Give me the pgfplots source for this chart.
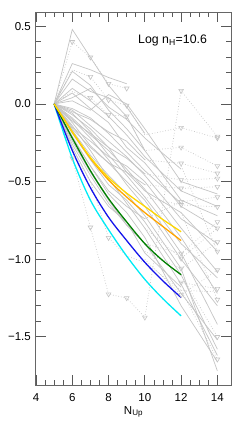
\documentclass[border=0pt]{standalone}
\usepackage{pgfplots}
\pgfplotsset{compat=1.18}
\usepackage{fontspec}
\setmainfont{Liberation Sans}
\definecolor{gl}{RGB}{196,196,196}
\definecolor{myorange}{RGB}{255,165,0}
\definecolor{myyellow}{RGB}{255,215,0}
\definecolor{mygreen}{RGB}{0,128,0}
\definecolor{myblue}{RGB}{20,20,235}
\definecolor{mycyan}{RGB}{0,235,245}
\begin{document}
\begin{tikzpicture}
\begin{axis}[
  scale only axis, width=195pt, height=372.7pt,
  xmin=4, xmax=14.75, ymin=-1.81, ymax=0.59,
  xtick={4,6,8,10,12,14}, xticklabels={4,6,8,10,12,14},
  ytick={-1.5,-1,-0.5,0,0.5}, yticklabels={−1.5,−1.0,−0.5,0.0,0.5},
  minor x tick num=3, minor y tick num=4,
  major tick length=10pt, minor tick length=5pt,
  tick align=inside,
  axis line style={black!60, line width=1pt},
  every tick/.style={black!65, line width=0.8pt},
  tick label style={font=\fontsize{11.5}{13}\selectfont, text=black},
  yticklabel style={inner sep=0pt, xshift=-5pt},
  xticklabel style={inner sep=0pt, yshift=-8pt},
  xlabel={N\textsubscript{Up}},
  xlabel style={font=\fontsize{11.5}{13}\selectfont, at={(axis description cs:0.5,0)}, anchor=north, inner sep=0pt, yshift=-21pt},
  clip=true,
  gs/.style={gl, line width=0.7pt, mark=none},
  gd/.style={gl, line width=0.7pt, dotted, mark=triangle, mark size=2.7pt, mark options={solid, rotate=180, gl, line width=0.6pt, fill=none}},
  cl/.style={line width=1.3pt, mark=none, smooth},
]
% solid gray lines
\addplot[gs] coordinates {(5,0)(6,0.48)(7,0.30)(8,0.12)(9,-0.02)(10,-0.19)};
\addplot[gs] coordinates {(5,0)(6,0.26)(7,0.22)(8,0.17)(9,0.13)};
\addplot[gs] coordinates {(5,0)(6,0.16)(7,0.08)(8,0.04)(9,-0.08)(10,-0.3)(12,-0.62)(14,-0.72)};
\addplot[gs] coordinates {(5,0)(6,0.07)(7,-0.03)(8,-0.12)(9,-0.28)(10,-0.38)(12,-0.66)(14,-0.8)};
\addplot[gs] coordinates {(5,0)(6,-0.04)(7,-0.14)(8,-0.24)(9,-0.34)(10,-0.46)(12,-0.74)(14,-0.9)};
\addplot[gs] coordinates {(5,0)(6,-0.09)(7,-0.2)(8,-0.3)(9,-0.42)(10,-0.55)(12,-0.86)(14,-1.22)};
\addplot[gs] coordinates {(5,0)(6,-0.12)(7,-0.27)(8,-0.38)(9,-0.5)(10,-0.62)(12,-0.96)(14,-1.42)};
\addplot[gs] coordinates {(5,0)(6,-0.17)(7,-0.33)(8,-0.46)(9,-0.58)(10,-0.72)(12,-1.06)(14,-1.72)};
\addplot[gs] coordinates {(5,0)(6,-0.14)(7,-0.3)(8,-0.48)(9,-0.64)(10,-0.8)(12,-1.16)(14,-1.62)};
\addplot[gs] coordinates {(5,0)(6,-0.21)(7,-0.4)(8,-0.58)(9,-0.7)(10,-0.86)(12,-1.3)(14,-1.66)};
\addplot[gs] coordinates {(5,0)(6,-0.07)(7,-0.16)(8,-0.28)(9,-0.44)(10,-0.56)(12,-0.7)(14,-0.95)};
\addplot[gs] coordinates {(5,0)(6,0.1)(7,0.02)(8,-0.08)(9,-0.2)(10,-0.34)(12,-0.56)(14,-0.66)};
\addplot[gs] coordinates {(5,0)(6,-0.03)(7,-0.09)(8,-0.19)(9,-0.31)(10,-0.43)(12,-0.64)};
\addplot[gs] coordinates {(5,0)(6,-0.24)(7,-0.44)(8,-0.62)(9,-0.78)(10,-0.9)(12,-1.22)(14,-1.52)};
\addplot[gs] coordinates {(5,0)(6,0.21)(7,0.12)(8,-0.04)(9,-0.16)(10,-0.3)};
\addplot[gs] coordinates {(5,0)(6,0.02)(7,-0.04)(8,0.06)(9,0.0)(10,-0.16)(12,-0.5)(14,-0.58)};
\addplot[gs] coordinates {(5,0)(6,-0.15)(7,-0.24)(8,-0.34)(9,-0.4)(10,-0.5)(12,-0.8)(14,-1.08)};
\addplot[gs] coordinates {(5,0)(6,-0.28)(7,-0.5)(8,-0.66)(9,-0.76)(10,-0.96)(12,-1.18)};
\addplot[gs] coordinates {(5,0)(6,-0.1)(7,-0.22)(8,-0.36)(9,-0.52)(10,-0.66)(12,-1.0)(14,-1.3)};
\addplot[gs] coordinates {(5,0)(6,-0.06)(7,-0.18)(8,-0.33)(9,-0.46)(10,-0.6)(12,-0.9)(14,-1.12)};
\addplot[gs] coordinates {(5,0)(6,0.04)(7,0.1)(8,-0.02)(9,-0.1)(10,-0.22)(12,-0.42)};
\addplot[gs] coordinates {(5,0)(6,-0.19)(7,-0.36)(8,-0.52)(9,-0.62)(10,-0.76)(12,-1.1)(14,-1.58)};
% solid parts of sources with upper limits
\addplot[gs] coordinates {(5,0)(6,-0.05)(7,-0.1)(8,-0.18)(9,-0.24)(10,-0.36)};
\addplot[gs] coordinates {(5,0)(6,-0.11)(7,-0.19)(8,-0.28)(9,-0.35)(10,-0.45)};
\addplot[gs] coordinates {(5,0)(6,-0.16)(7,-0.28)(8,-0.38)(9,-0.44)(10,-0.52)};
\addplot[gs] coordinates {(5,0)(6,-0.22)(7,-0.4)(8,-0.56)(9,-0.66)(10,-0.74)};
\addplot[gs] coordinates {(5,0)(6,-0.26)(7,-0.46)(8,-0.64)(9,-0.78)(10,-0.9)};
% dotted gray lines with upper-limit triangles
\addplot[gd, mark indices={2,3,4,5,6,7,8}] coordinates {(5,0)(6,-0.35)(7,-0.795)(8,-1.225)(9,-1.25)(10,-1.375)(12,0.085)(14,-0.21)};
\addplot[gd, mark indices={2,3,4,5}] coordinates {(5,0)(6,0.40)(7,0.30)(8,0.13)(9,0.10)};
\addplot[gd, mark indices={3,4,5,7,8}] coordinates {(5,0)(6,0.22)(7,0.175)(8,0.025)(9,-0.01)(10,-0.2)(12,-0.153)(14,-0.22)};
\addplot[gd, mark indices={3,4,5,7,8}] coordinates {(5,0)(6,0.08)(7,0.04)(8,-0.07)(9,-0.08)(10,-0.3)(12,-0.28)(14,-0.40)};
\addplot[gd, mark indices={4}] coordinates {(5,0)(6,-0.3)(7,-0.5)(8,-0.862)(9,-0.98)(10,-1.02)(12,-1.2)(14,-1.21)};
\addplot[gd, mark indices={2,3}] coordinates {(10,-0.36)(12,-0.383)(14,-0.447)};
\addplot[gd, mark indices={2,3}] coordinates {(10,-0.45)(12,-0.49)(14,-0.48)};
\addplot[gd, mark indices={2,3}] coordinates {(10,-0.52)(12,-0.544)(14,-0.533)};
\addplot[gd, mark indices={2,3}] coordinates {(10,-0.74)(12,-0.63)(14,-0.60)};
\addplot[gd, mark indices={2,3}] coordinates {(10,-0.6)(12,-0.65)(14,-0.663)};
\addplot[gd, mark indices={2,3}] coordinates {(10,-0.9)(12,-0.963)(14,-0.76)};
\addplot[gd, mark indices={2,3}] coordinates {(10,-0.8)(12,-0.995)(14,-0.80)};
\addplot[gd, mark indices={2,3}] coordinates {(10,-0.95)(12,-1.06)(14,-0.89)};
\addplot[gd, mark indices={2,3}] coordinates {(10,-1.0)(12,-1.23)(14,-1.07)};
\addplot[gd, mark indices={1,2}] coordinates {(12,-1.15)(14,-1.19)};
\addplot[gd, mark indices={2}] coordinates {(12,-1.1)(14,-1.5)};
\addplot[gd, mark indices={2}] coordinates {(12,-1.2)(14,-1.645)};
\addplot[gd, mark indices={2}] coordinates {(12,-0.4)(14,-0.95)};
\addplot[gd, mark indices={2}] coordinates {(12,-0.7)(14,-1.26)};
% model curves
\addplot[cl, mycyan] coordinates {(5,0)(6,-0.35)(7,-0.62)(8,-0.81)(9,-0.98)(10,-1.13)(11,-1.255)(12,-1.365)};
\addplot[cl, myblue] coordinates {(5,0)(6,-0.30)(7,-0.54)(8,-0.73)(9,-0.88)(10,-1.02)(11,-1.14)(12,-1.247)};
\addplot[cl, mygreen] coordinates {(5,0)(6,-0.22)(7,-0.43)(8,-0.61)(9,-0.76)(10,-0.90)(11,-1.01)(12,-1.10)};
\addplot[cl, myorange] coordinates {(5,0)(6,-0.18)(7,-0.35)(8,-0.49)(9,-0.60)(10,-0.70)(11,-0.79)(12,-0.88)};
\addplot[cl, myyellow] coordinates {(5,0)(6,-0.18)(7,-0.345)(8,-0.475)(9,-0.575)(10,-0.66)(11,-0.745)(12,-0.823)};
\node[anchor=base east, inner sep=0pt, font=\fontsize{12.3}{14}\selectfont] at (axis cs:13.43,0.39) {Log n\textsubscript{H}=10.6};
\end{axis}
\pgfresetboundingbox
\path ([shift={(-36pt,-43pt)}]current axis.south west) rectangle ([shift={(9pt,12.3pt)}]current axis.north east);
\end{tikzpicture}
\end{document}
